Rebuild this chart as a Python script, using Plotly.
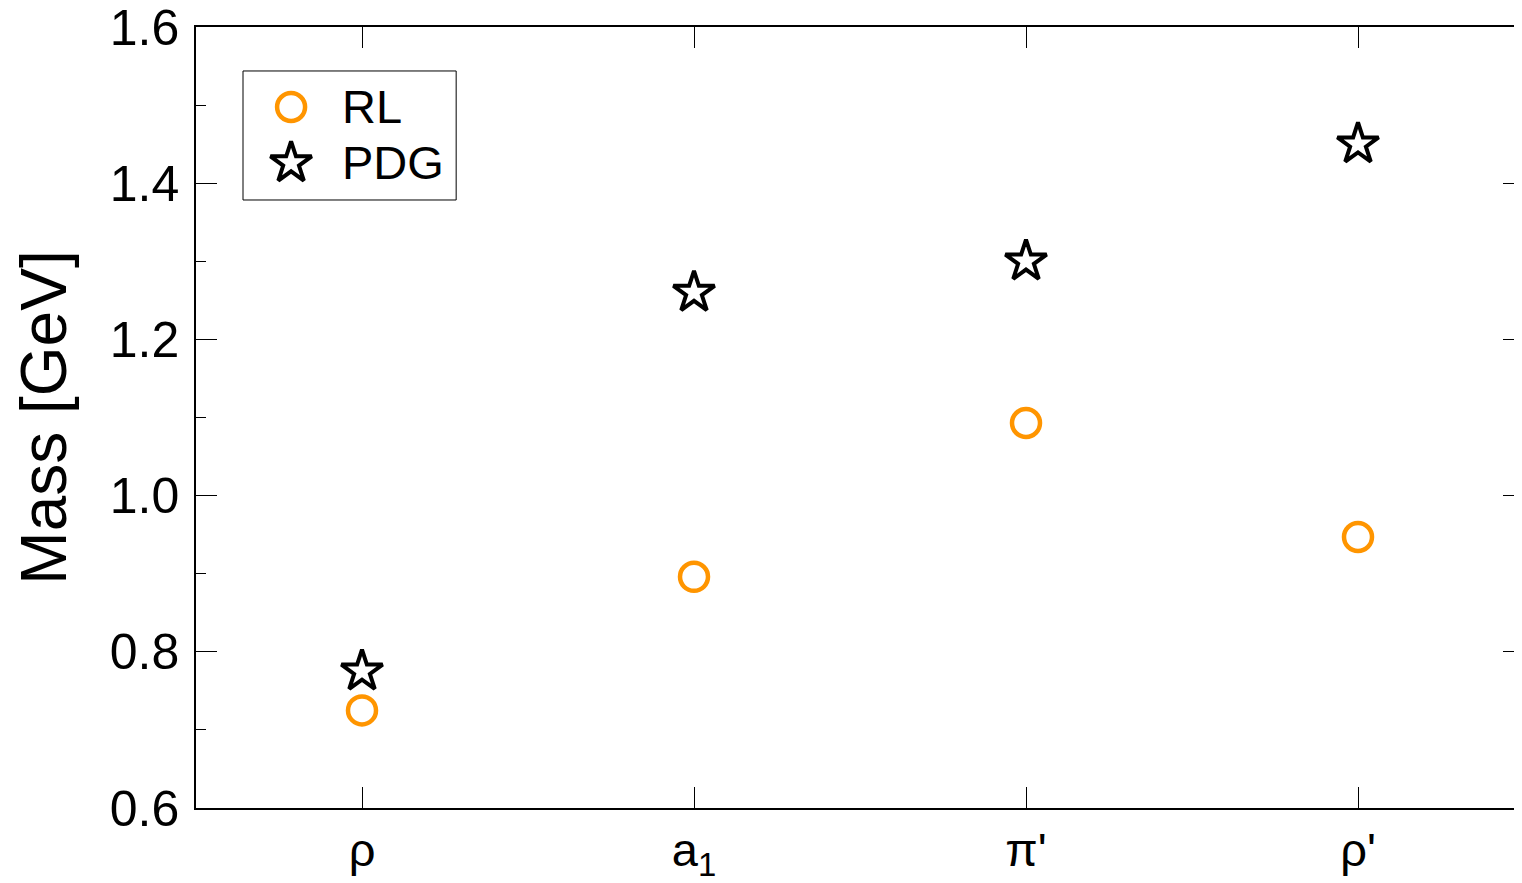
import plotly.graph_objects as go

categories = ["ρ", "a<sub>1</sub>", "π'", "ρ'"]
rl_values = [0.725, 0.896, 1.093, 0.947]
pdg_values = [0.775, 1.26, 1.30, 1.45]
y_ticks = [0.6, 0.8, 1.0, 1.2, 1.4, 1.6]
series_names = ["RL", "PDG"]

xpos = list(range(len(categories)))
FONT = "Liberation Sans, Arial, Helvetica, sans-serif"
ORANGE = "#FF9500"

circle_marker = dict(symbol="circle-open", size=28, color=ORANGE,
                     line=dict(width=4.5, color=ORANGE))
star_marker = dict(symbol="star-open", size=31, color="black",
                   line=dict(width=4, color="black"))

fig = go.Figure()
fig.add_trace(go.Scatter(x=xpos, y=rl_values, mode="markers", name=series_names[0],
                         marker=circle_marker, showlegend=False))
fig.add_trace(go.Scatter(x=xpos, y=pdg_values, mode="markers", name=series_names[1],
                         marker=star_marker, showlegend=False))

# custom legend (overlay axes spanning the plot area, range 0..1)
leg_x0, leg_x1, leg_y0, leg_y1 = 0.0354, 0.1959, 0.7785, 0.9437
sym_x = 0.0716
row_y = [0.8976, 0.8259]
text_x = 0.1085
fig.add_trace(go.Scatter(x=[sym_x], y=[row_y[0]], mode="markers", marker=circle_marker,
                         xaxis="x2", yaxis="y2", showlegend=False, hoverinfo="skip"))
fig.add_trace(go.Scatter(x=[sym_x], y=[row_y[1]], mode="markers", marker=star_marker,
                         xaxis="x2", yaxis="y2", showlegend=False, hoverinfo="skip"))
fig.add_shape(type="rect", xref="x2", yref="y2", x0=leg_x0, x1=leg_x1, y0=leg_y0, y1=leg_y1,
              line=dict(color="black", width=1), fillcolor="rgba(0,0,0,0)", layer="below")
for name, yy in zip(series_names, row_y):
    fig.add_annotation(x=text_x, y=yy, xref="x2", yref="y2", text=name, showarrow=False,
                       xanchor="left", yanchor="middle", font=dict(size=47, family=FONT, color="black"))

fig.update_layout(
    width=1522, height=883,
    margin=dict(l=188, r=6, t=19, b=83),
    paper_bgcolor="white", plot_bgcolor="white",
    font=dict(family=FONT, size=46, color="black"),
    showlegend=False,
    xaxis=dict(range=[-0.5, 3.5], tickvals=xpos, ticktext=categories,
               ticks="inside", ticklen=21, tickwidth=1, tickcolor="black",
               showline=True, linecolor="black", linewidth=1.5,
               mirror="ticks", showgrid=False, zeroline=False, automargin=False,
               ticklabeloverflow="allow",
               tickfont=dict(size=47, family=FONT)),
    yaxis=dict(range=[0.6, 1.6], tickvals=y_ticks, tickformat=".1f",
               ticks="inside", ticklen=21, tickwidth=1, tickcolor="black",
               showline=True, linecolor="black", linewidth=1.5,
               mirror="ticks", showgrid=False, zeroline=False, automargin=False,
               ticklabelstandoff=5, ticklabeloverflow="allow",
               minor=dict(ticks="inside", ticklen=10, dtick=0.1, tickcolor="black", tickwidth=1),
               title=dict(text="Mass [GeV]", font=dict(size=64, family=FONT), standoff=38),
               tickfont=dict(size=50, family=FONT)),
    xaxis2=dict(range=[0, 1], overlaying="x", visible=False, fixedrange=True),
    yaxis2=dict(range=[0, 1], overlaying="y", visible=False, fixedrange=True),
)

fig.write_html("out.html")
